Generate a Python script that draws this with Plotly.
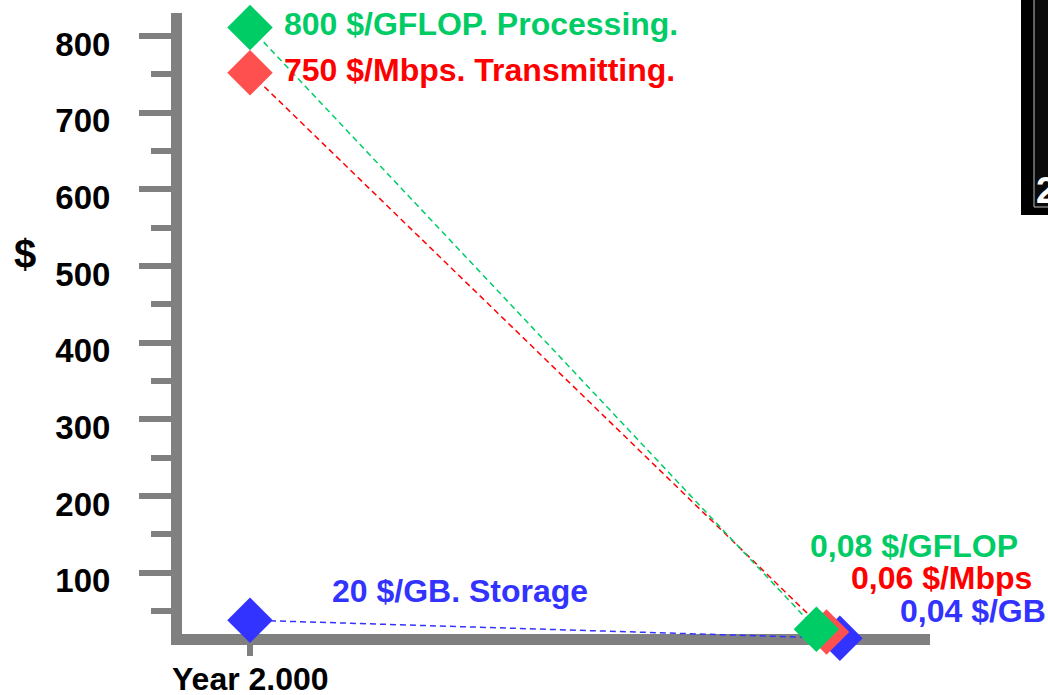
import plotly.graph_objects as go

# ---- data ----
series_names = ["Storage", "Transmitting", "Processing"]
start_year = [2000, 2000, 2000]
start_value = [38, 752, 811]
end_year = [2020.34, 2019.88, 2019.53]
end_value = [14.3, 22.6, 26]
start_labels = ["20 $/GB. Storage", "750 $/Mbps. Transmitting.", "800 $/GFLOP. Processing."]
end_labels = ["0,04 $/GB", "0,06 $/Mbps", "0,08 $/GFLOP"]
marker_colors = ["#3333FF", "#FF5050", "#00CC66"]
line_colors = ["#3333FF", "#FF0000", "#00CC66"]
text_colors = ["#3333FF", "#FF0000", "#00CC66"]
y_tick_vals = [100, 200, 300, 400, 500, 600, 700, 800]
x_tick_vals = [2000]
x_tick_text = ["Year 2.000"]

FONT = "Liberation Sans, Arial, sans-serif"
GRAY = "#808080"

# plot area geometry (pixels)
L, R, T, B = 182, 930, 13, 645
W, H = 1048, 695
XLINE = 633  # inner (top) edge of the horizontal axis line

def px(xp):
    return (xp - L) / (R - L)

def py(yp):
    return (B - yp) / (B - T)

fig = go.Figure()
for i in range(3):
    fig.add_trace(go.Scatter(
        x=[start_year[i], end_year[i]], y=[start_value[i], end_value[i]],
        mode="lines+markers",
        line=dict(color=line_colors[i], width=1.5, dash="6px,4px"),
        marker=dict(symbol="diamond", size=35, color=marker_colors[i], line=dict(width=0)),
        name=series_names[i], showlegend=False, cliponaxis=False,
    ))

# label offsets (pixels)
start_shift = [(80, 29), (32, 3), (32, 4)]
end_shift = [(58, 22.5), (22, 55), (-8, 87.5)]   # relative to top edge of x-axis line
ann = []
for i in range(3):
    ann.append(dict(x=start_year[i], y=start_value[i], xref="x", yref="y", text="<b>%s</b>" % start_labels[i],
                    showarrow=False, xanchor="left", yanchor="middle",
                    xshift=start_shift[i][0], yshift=start_shift[i][1],
                    font=dict(family=FONT, size=32, color=text_colors[i])))
    ann.append(dict(x=end_year[i], y=py(XLINE), xref="x", yref="paper", text="<b>%s</b>" % end_labels[i],
                    showarrow=False, xanchor="left", yanchor="middle",
                    xshift=end_shift[i][0], yshift=end_shift[i][1],
                    font=dict(family=FONT, size=32, color=text_colors[i])))

# x tick label (drawn as annotation so it can sit closer to the tick)
for xv, xt in zip(x_tick_vals, x_tick_text):
    ann.append(dict(x=xv, y=py(XLINE), xref="x", yref="paper", text="<b>%s</b>" % xt, showarrow=False,
                    xanchor="center", yanchor="middle", yshift=-46,
                    font=dict(family=FONT, size=32, color="black")))

# y-axis title "$"
ann.append(dict(x=px(25), y=py(254), xref="paper", yref="paper", text="<b>$</b>", showarrow=False,
                xanchor="center", yanchor="middle", font=dict(family=FONT, size=40, color="black")))
# cropped dark picture in top-right corner
ann.append(dict(x=px(1034), y=py(190), xref="paper", yref="paper", text="<b>2</b>", showarrow=False,
                xanchor="left", yanchor="middle", font=dict(family=FONT, size=36, color="white")))

shapes = [
    dict(type="rect", xref="paper", yref="paper", x0=px(1021), x1=px(1060), y0=py(215), y1=py(-5),
         fillcolor="#000000", line=dict(width=0), layer="below"),
    dict(type="rect", xref="paper", yref="paper", x0=px(1034), x1=px(1070), y0=py(207), y1=py(-5),
         fillcolor="#0a0a0a", line=dict(color="#bbbbbb", width=1), layer="below"),
]

fig.update_layout(
    width=W, height=H,
    margin=dict(l=L, r=W - R, t=T, b=H - B, pad=0, autoexpand=False),
    plot_bgcolor="white", paper_bgcolor="white",
    annotations=ann, shapes=shapes,
    xaxis=dict(range=[1997.655, 2023.448], showgrid=False, zeroline=False, automargin=False,
               anchor="free", position=py(XLINE + 6),
               showline=True, linecolor=GRAY, linewidth=11, layer="below traces",
               tickmode="array", tickvals=x_tick_vals, showticklabels=False,
               ticks="outside", ticklen=11, tickwidth=6, tickcolor=GRAY),
    yaxis=dict(range=[5.6, 830], showgrid=False, zeroline=False, automargin=False,
               showline=True, linecolor=GRAY, linewidth=11, layer="below traces",
               tickmode="array", tickvals=y_tick_vals,
               ticktext=["<b>%d</b>" % v for v in y_tick_vals],
               ticks="outside", ticklen=32, tickwidth=6, tickcolor=GRAY,
               ticklabelstandoff=22, ticklabelshift=8,
               minor=dict(tickmode="linear", tick0=50, dtick=100, ticks="outside", ticklen=20, tickwidth=6, tickcolor=GRAY, showgrid=False),
               tickfont=dict(family=FONT, size=33, color="black")),
)

fig.write_html("out.html", config={"displayModeBar": False},
               post_script="document.body.style.margin='0';document.body.style.overflow='hidden';")
